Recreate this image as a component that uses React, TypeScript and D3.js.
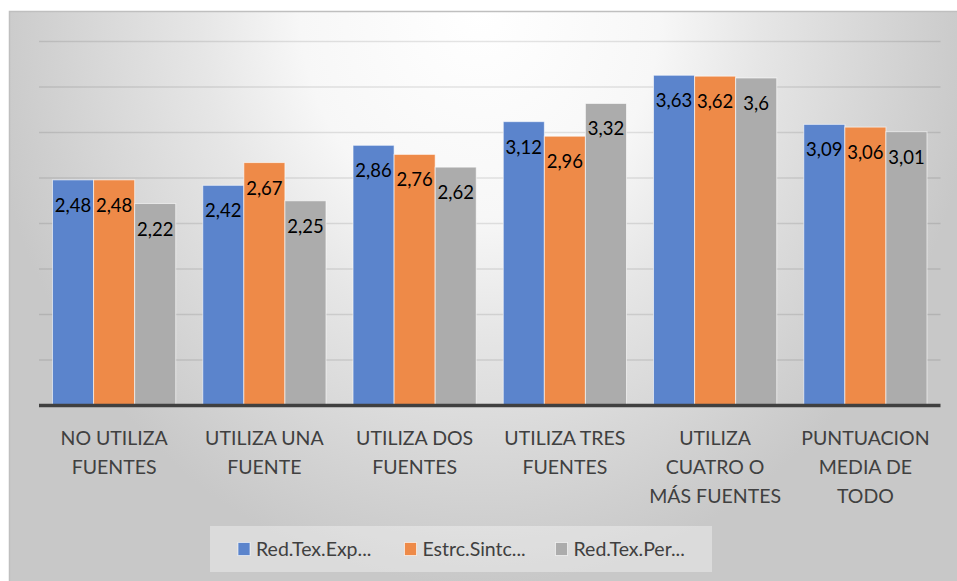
import React from "react";
import * as d3 from "d3";

const categories: string[][] = [
  ["NO UTILIZA", "FUENTES"],
  ["UTILIZA UNA", "FUENTE"],
  ["UTILIZA DOS", "FUENTES"],
  ["UTILIZA TRES", "FUENTES"],
  ["UTILIZA", "CUATRO O", "MÁS FUENTES"],
  ["PUNTUACION", "MEDIA DE", "TODO"],
];
const seriesNames = ["Red.Tex.Exp...", "Estrc.Sintc...", "Red.Tex.Per..."];
const seriesColors = ["#5B84CC", "#EE8A48", "#ACACAC"];
const redTexExp = [2.48, 2.42, 2.86, 3.12, 3.63, 3.09];
const estrcSintc = [2.48, 2.67, 2.76, 2.96, 3.62, 3.06];
const redTexPer = [2.22, 2.25, 2.62, 3.32, 3.6, 3.01];
const seriesValues = [redTexExp, estrcSintc, redTexPer];
const gridTicks = [0.5, 1, 1.5, 2, 2.5, 3, 3.5, 4];

const W = 957;
const H = 581;

export default function App() {
  const catKeys = categories.map((c) => c.join(" "));
  const x0 = d3.scaleBand<string>().domain(catKeys).range([39, 940.5]).padding(0);
  const bw = x0.bandwidth();
  const groupW = bw * 0.82;
  const x1 = d3
    .scaleBand<number>()
    .domain([0, 1, 2])
    .range([(bw - groupW) / 2, (bw + groupW) / 2])
    .padding(0);
  const y = d3.scaleLinear().domain([0, 4]).range([405.5, 41.6]);
  const loc = d3.formatLocale({ decimal: ",", thousands: ".", grouping: [3], currency: ["", "€"] });
  const fmt = loc.format("~f");
  const font = "Lato, 'Open Sans', sans-serif";

  const legendX = [238, 404.5, 555.5];

  return (
    <svg
      width={W}
      height={H}
      style={{ position: "absolute", left: 0, top: 0 }}
      fontFamily={font}
    >
      <defs>
        <radialGradient
          id="bg"
          gradientUnits="userSpaceOnUse"
          cx={480}
          cy={10}
          r={500}
          gradientTransform="translate(480 10) scale(1 1.15) translate(-480 -10)"
        >
          <stop offset="0" stopColor="#ffffff" />
          <stop offset="0.36" stopColor="#f7f7f7" />
          <stop offset="0.56" stopColor="#e6e6e6" />
          <stop offset="0.88" stopColor="#d0d0d0" />
          <stop offset="1" stopColor="#c8c8c8" />
        </radialGradient>
      </defs>
      <rect x={0} y={0} width={W} height={H} fill="#ffffff" />
      <rect x={9.5} y={11.5} width={W} height={H} fill="url(#bg)" stroke="#bfbfbf" strokeWidth={1.5} />

      {gridTicks.map((t) => (
        <line
          key={t}
          x1={39}
          x2={940.5}
          y1={y(t)}
          y2={y(t)}
          stroke="#000"
          strokeOpacity={0.1}
          strokeWidth={1.5}
        />
      ))}

      {categories.map((c, ci) => (
        <g key={ci} transform={`translate(${x0(catKeys[ci])},0)`}>
          {seriesValues.map((vals, si) => (
            <rect
              key={si}
              x={x1(si)}
              y={y(vals[ci])}
              width={x1.bandwidth()}
              height={y(0) - y(vals[ci])}
              fill={seriesColors[si]}
              stroke="#ffffff"
              strokeOpacity={0.6}
              strokeWidth={1}
            />
          ))}
          {seriesValues.map((vals, si) => (
            <text
              key={"l" + si}
              x={(x1(si) as number) + x1.bandwidth() / 2}
              y={y(vals[ci]) + 32}
              textAnchor="middle"
              fontSize={18.5}
              fill="#000"
            >
              {fmt(vals[ci])}
            </text>
          ))}
          {c.map((line, li) => (
            <text
              key={"c" + li}
              x={bw / 2}
              y={445 + li * 29}
              textAnchor="middle"
              fontSize={19.5}
              fill="#404040"
            >
              {line}
            </text>
          ))}
        </g>
      ))}

      <line x1={39} x2={940.5} y1={y(0)} y2={y(0)} stroke="#404040" strokeWidth={3.5} />

      <rect x={210} y={526} width={502} height={46} fill="#ffffff" fillOpacity={0.35} />
      {seriesNames.map((n, i) => (
        <g key={n}>
          <rect
            x={legendX[i]}
            y={542.5}
            width={12}
            height={13}
            fill={seriesColors[i]}
            stroke="#ffffff"
            strokeOpacity={0.6}
          />
          <text x={legendX[i] + 18} y={556} fontSize={19.5} fill="#404040">
            {n}
          </text>
        </g>
      ))}
    </svg>
  );
}
